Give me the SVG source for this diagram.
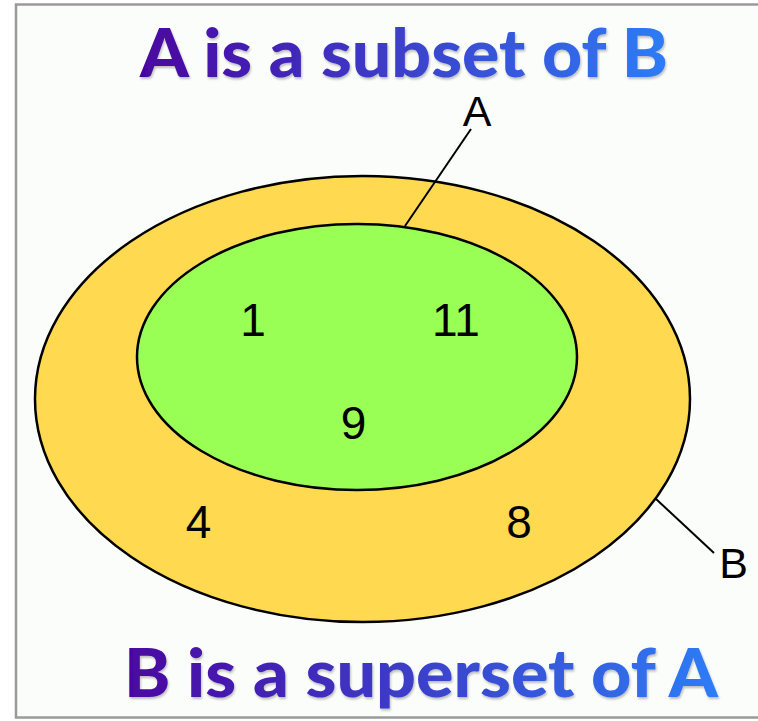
<svg xmlns="http://www.w3.org/2000/svg" width="758" height="721" viewBox="0 0 758 721">
  <defs>
    <linearGradient id="g1" gradientUnits="userSpaceOnUse" x1="140" y1="0" x2="668" y2="0">
      <stop offset="0" stop-color="#4a05a0"/>
      <stop offset="1" stop-color="#2d7cf6"/>
    </linearGradient>
    <linearGradient id="g2" gradientUnits="userSpaceOnUse" x1="124" y1="0" x2="718" y2="0">
      <stop offset="0" stop-color="#4a05a0"/>
      <stop offset="1" stop-color="#2d7cf6"/>
    </linearGradient>
    <filter id="sh" x="-5%" y="-20%" width="110%" height="140%">
      <feDropShadow dx="1" dy="2" stdDeviation="1.2" flood-color="#000" flood-opacity="0.25"/>
    </filter>
  </defs>
  <style>
    .title { font-family: Lato, "Noto Sans", sans-serif; font-weight: 900; font-size: 67px; }
    .num { font-family: "Liberation Sans", Arial, sans-serif; font-size: 46px; fill: #000; }
    .lbl { font-family: "Liberation Sans", Arial, sans-serif; font-size: 43px; fill: #000; }
    .edge { stroke: #000; stroke-width: 2; fill: none; }
  </style>
  <rect x="0" y="0" width="758" height="721" fill="#ffffff"/>
  <rect x="16" y="4.5" width="760" height="713" fill="#fbfdfb" stroke="#9a9a9a" stroke-width="2.5"/>

  <g id="title-top">
    <text class="title" x="140" y="77" textLength="528" lengthAdjust="spacingAndGlyphs" fill="url(#g1)" filter="url(#sh)">A is a subset of B</text>
  </g>

  <g id="set-B">
    <ellipse cx="362.5" cy="399" rx="327.5" ry="223" fill="#ffd94f" stroke="#000" stroke-width="2.5"/>
    <text class="num" x="198.5" y="538" text-anchor="middle">4</text>
    <text class="num" x="519" y="538" text-anchor="middle">8</text>
  </g>

  <g id="set-A">
    <ellipse cx="357" cy="357" rx="220" ry="133" fill="#9aff55" stroke="#000" stroke-width="2.5"/>
    <text class="num" x="253" y="336" text-anchor="middle">1</text>
    <text class="num" x="456" y="336" text-anchor="middle">11</text>
    <text class="num" x="353.5" y="439" text-anchor="middle">9</text>
  </g>

  <g id="connectors">
    <line class="edge" x1="471" y1="129" x2="405" y2="226"/>
    <line class="edge" x1="656" y1="499" x2="714" y2="553"/>
  </g>

  <g id="label-A">
    <text class="lbl" x="477" y="126" text-anchor="middle">A</text>
  </g>
  <g id="label-B">
    <text class="lbl" x="733.5" y="578" text-anchor="middle">B</text>
  </g>

  <g id="title-bottom">
    <text class="title" x="124" y="697" textLength="594" lengthAdjust="spacingAndGlyphs" fill="url(#g2)" filter="url(#sh)">B is a superset of A</text>
  </g>
</svg>
